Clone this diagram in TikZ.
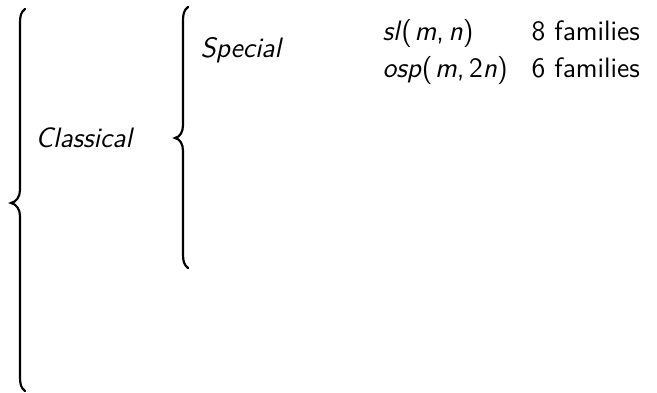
\documentclass[tikz,border=0pt]{standalone}
\begin{document}
\begin{tikzpicture}[x=0.392pt,y=-0.392pt,
  bracepath/.style={line width=0.85pt, line cap=round},
  lbl/.style={anchor=base west, inner sep=0pt, font=\fontsize{11pt}{13.6pt}\selectfont\sffamily\slshape},
  num/.style={anchor=base west, inner sep=0pt, font=\fontsize{11pt}{13.6pt}\selectfont\sffamily}]
\useasboundingbox (0,0) rectangle (657,392);
% outer brace
\draw[bracepath] (25,9) .. controls (21,12) and (20,16) .. (20,23) -- (20,190)
  .. controls (20,197) and (16,202) .. (11,203)
  .. controls (16,204) and (20,209) .. (20,216) -- (20,377)
  .. controls (20,384) and (21,388) .. (25,391);
% inner brace
\draw[bracepath] (188,7) .. controls (184,10) and (183,14) .. (183,21) -- (183,125)
  .. controls (183,132) and (180,137) .. (175,138)
  .. controls (180,139) and (183,144) .. (183,151) -- (183,254)
  .. controls (183,261) and (184,265) .. (188,268);
\node[lbl] (classical) at (35,147) {Classical};
\node[lbl] (special) at (200,57) {Special};
\node[lbl] (sl) at (382,40) {sl\/\textup{(}\kern1pt m\textup{,}\,n\textup{)}};
\node[lbl] (osp) at (382,77) {osp\textup{(}\kern1pt m\textup{,}\,\textup{2}n\textup{)}};
\node[num] (f8) at (531,40) {8 families};
\node[num] (f6) at (531,77) {6 families};
\end{tikzpicture}
\end{document}
